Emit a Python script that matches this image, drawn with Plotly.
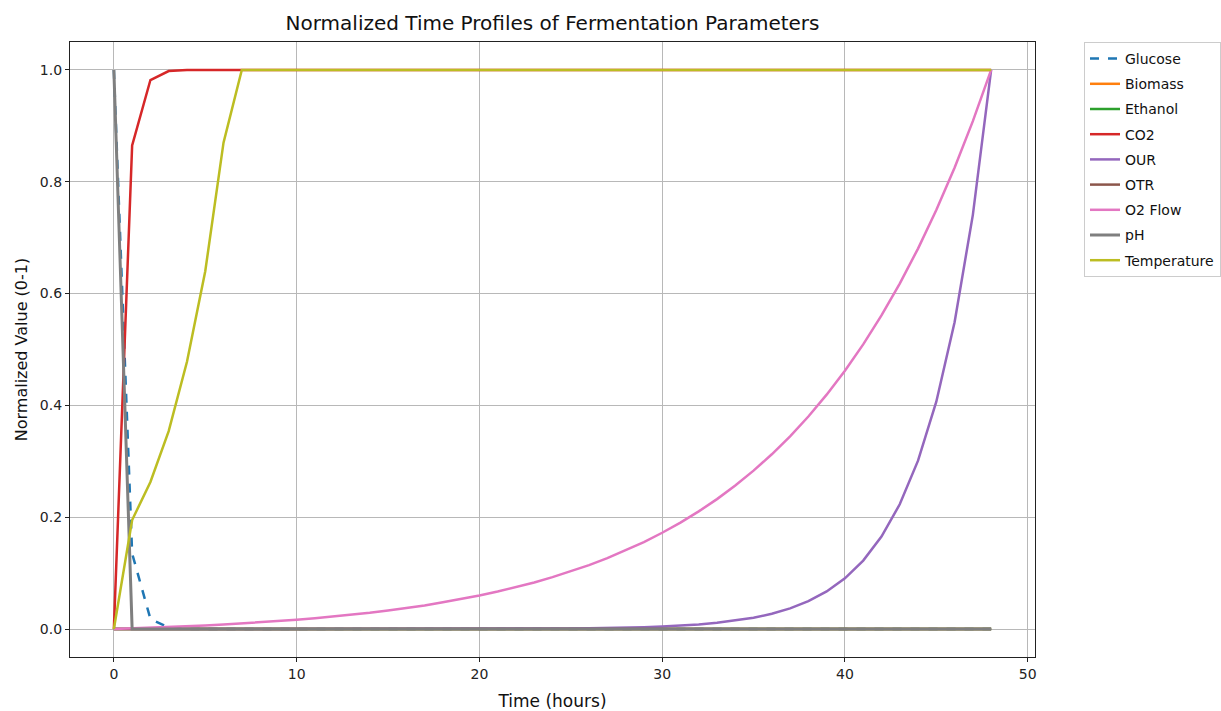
import plotly.graph_objects as go

time_h = list(range(49))

glucose = [1.0, 0.135, 0.018, 0.0025, 0.0003] + [0.0] * 44
biomass = [0.0] * 49
ethanol = [0.0] * 49
co2 = [0.0, 0.865, 0.982, 0.998, 0.9997] + [1.0] * 44
our = [0.0] * 20 + [0.0002, 0.0003, 0.0004, 0.0006, 0.0007, 0.0010, 0.0014, 0.0018,
                    0.0025, 0.0033, 0.0045, 0.0061, 0.0082, 0.0111, 0.0150, 0.0202,
                    0.0273, 0.0369, 0.0498, 0.0672, 0.0907, 0.1225, 0.1653, 0.2231,
                    0.3012, 0.4066, 0.5488, 0.7408, 1.0]
otr = [0.0] * 49
o2_flow = [0.0, 0.0010, 0.0022, 0.0034, 0.0049, 0.0063, 0.0080, 0.0100, 0.0119, 0.0141,
           0.0166, 0.0194, 0.0224, 0.0255, 0.0290, 0.0330, 0.0374, 0.0422, 0.0479, 0.0537,
           0.0601, 0.0671, 0.0749, 0.0834, 0.0928, 0.1031, 0.1144, 0.1268, 0.1406, 0.1556,
           0.1722, 0.1904, 0.2104, 0.2324, 0.2567, 0.2833, 0.3126, 0.3448, 0.3802, 0.4192,
           0.4620, 0.5091, 0.5609, 0.6179, 0.6805, 0.7494, 0.8252, 0.9084, 1.0]
ph = [1.0] + [0.0] * 48
temperature = [0.0, 0.195, 0.263, 0.354, 0.478, 0.640, 0.870] + [1.0] * 42

series_names = ["Glucose", "Biomass", "Ethanol", "CO2", "OUR", "OTR", "O2 Flow", "pH", "Temperature"]
series_values = [glucose, biomass, ethanol, co2, our, otr, o2_flow, ph, temperature]
series_colors = ["#1f77b4", "#ff7f0e", "#2ca02c", "#d62728", "#9467bd", "#8c564b",
                 "#e377c2", "#7f7f7f", "#bcbd22"]

x_ticks = [0, 10, 20, 30, 40, 50]
y_ticks = [0.0, 0.2, 0.4, 0.6, 0.8, 1.0]

fig = go.Figure()
for name, vals, col in zip(series_names, series_values, series_colors):
    fig.add_trace(go.Scatter(
        x=time_h, y=vals, name=name, mode="lines", legendgroup=name,
        line=dict(color=col, width=3 if name == "pH" else 2.5,
                  dash="dash" if name == "Glucose" else "solid"),
    ))

axis_common = dict(
    showline=True, linecolor="#222", linewidth=1.2, mirror=True,
    ticks="outside", ticklen=4, tickcolor="#222",
    showgrid=True, gridcolor="#b8b8b8", gridwidth=1, zeroline=False,
    tickfont=dict(family="DejaVu Sans", size=14, color="#222"),
)

fig.update_layout(
    width=1221, height=711,
    margin=dict(l=70, r=186, t=42, b=54, autoexpand=False),
    paper_bgcolor="white", plot_bgcolor="white",
    title=dict(text="Normalized Time Profiles of Fermentation Parameters",
               x=(70 + 1035) / 2 / 1221, xanchor="center", y=1 - 23 / 711, yanchor="middle",
               font=dict(family="DejaVu Sans", size=20, color="#111")),
    xaxis=dict(range=[-2.4, 50.4], tickvals=x_ticks,
               title=dict(text="Time (hours)", font=dict(family="DejaVu Sans", size=17, color="#111"),
                          standoff=14),
               **axis_common),
    yaxis=dict(range=[-0.05, 1.05], tickvals=y_ticks, tickformat=".1f",
               title=dict(text="Normalized Value (0-1)", font=dict(family="DejaVu Sans", size=16, color="#111"),
                          standoff=8),
               **axis_common),
    legend=dict(xref="container", yref="container",
                x=1084 / 1221, y=1 - 42 / 711, xanchor="left", yanchor="top",
                bordercolor="#cccccc", borderwidth=1, bgcolor="white",
                font=dict(family="DejaVu Sans", size=14, color="#111"),
                itemwidth=30, tracegroupgap=4),
)

fig.write_html("out.html")
